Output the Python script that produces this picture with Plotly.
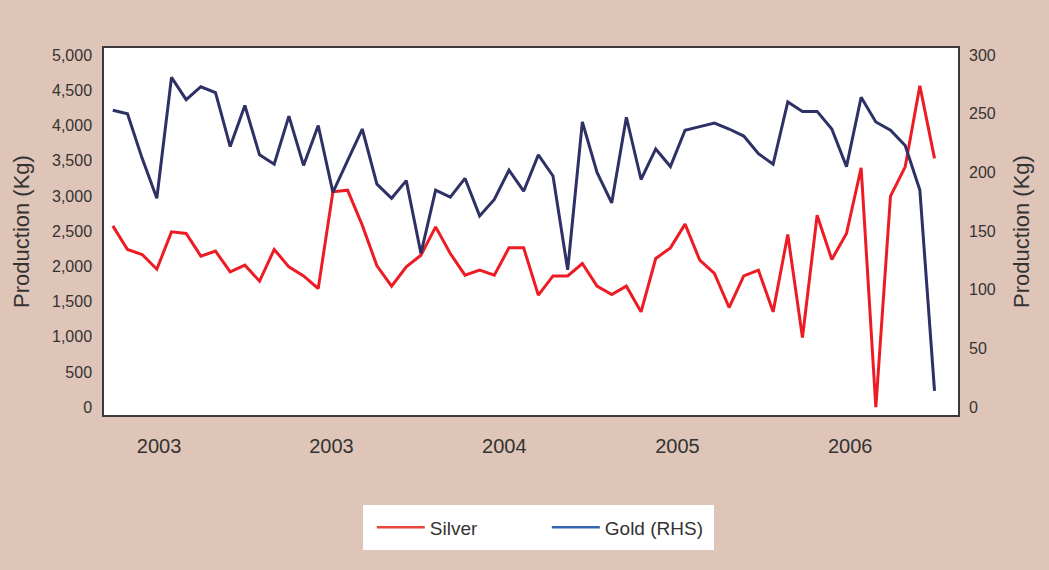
import plotly.graph_objects as go

# Monthly production, Kg
silver = [2575, 2240, 2169, 1960, 2490, 2467, 2145, 2216, 1922, 2017,
          1790, 2240, 1993, 1865, 1686, 3058, 3082, 2585, 2007, 1719,
          1993, 2159, 2561, 2183, 1875, 1946, 1875, 2263, 2263, 1591,
          1865, 1865, 2041, 1719, 1600, 1719, 1354, 2112, 2263, 2600,
          2088, 1899, 1416, 1865, 1946, 1354, 2453, 990, 2727, 2098,
          2467, 3400, 0, 2997, 3413, 4564, 3533]
gold = [253, 250, 212, 178, 281, 262, 273, 268, 222, 257,
        215, 207, 248, 206, 240, 183, 210, 237, 190, 178,
        193, 131, 185, 179, 195, 163, 177, 202, 184, 215,
        197, 117, 243, 200, 174, 247, 194, 220, 205, 236,
        239, 242, 237, 231, 216, 207, 260, 252, 252, 237,
        205, 264, 243, 236, 223, 185, 14]
year_labels = ["2003", "2003", "2004", "2005", "2006"]
series_names = ["Silver", "Gold (RHS)"]

months = list(range(len(silver)))
year_pos = [3.15, 14.9, 26.68, 38.48, 50.25]

font_family = "Liberation Sans, Arial, sans-serif"
text_col = "#333333"
frame_col = "#3a3a3a"

fig = go.Figure()
fig.add_trace(go.Scatter(x=months, y=silver, name=series_names[0], mode="lines",
                         line=dict(color="#ED1C24", width=3), showlegend=False))
fig.add_trace(go.Scatter(x=months, y=gold, name=series_names[1], mode="lines",
                         line=dict(color="#2E3165", width=3), yaxis="y2",
                         showlegend=False))
# legend keys (lighter swatch colours)
fig.add_trace(go.Scatter(x=[None], y=[None], name=series_names[0], mode="lines",
                         line=dict(color="#E8473C", width=2.5)))
fig.add_trace(go.Scatter(x=[None], y=[None], name=series_names[1], mode="lines",
                         line=dict(color="#3366B0", width=2.5)))

# white legend panel
fig.add_shape(type="rect", xref="paper", yref="paper",
              x0=0.3033, x1=0.7143, y0=-0.3678, y1=-0.2452,
              fillcolor="white", line=dict(width=0), layer="below")

fig.update_layout(
    width=1049, height=570,
    paper_bgcolor="#DFC5B8",
    plot_bgcolor="white",
    margin=dict(l=104, r=91, t=48, b=155),
    font=dict(family=font_family, color=text_col, size=16),
    xaxis=dict(range=[-0.6, 57.6], tickvals=year_pos, ticktext=year_labels,
               showgrid=False, zeroline=False, ticks="",
               tickfont=dict(size=20), ticklabelstandoff=12,
               showline=True, linecolor=frame_col, linewidth=1.5, mirror=True),
    yaxis=dict(range=[-110, 5100], tickvals=list(range(0, 5001, 500)),
               tickformat=",d", showgrid=False, zeroline=False, ticks="",
               ticklabelstandoff=7,
               showline=True, linecolor=frame_col, linewidth=1.5, mirror=True,
               title=dict(text="Production (Kg)", font=dict(size=22), standoff=16)),
    yaxis2=dict(range=[-6.6, 306], overlaying="y", side="right",
                tickvals=list(range(0, 301, 50)), showgrid=False, zeroline=False,
                ticks="", ticklabelstandoff=10,
                title=dict(text="Production (Kg)", font=dict(size=22), standoff=18)),
    legend=dict(orientation="h", x=0.5185, xanchor="center", y=-0.3065, yanchor="middle",
                bgcolor="rgba(0,0,0,0)", font=dict(size=19, color=text_col),
                entrywidth=112, entrywidthmode="pixels",
                itemwidth=48),
    showlegend=True,
)

fig.write_html("out.html")
